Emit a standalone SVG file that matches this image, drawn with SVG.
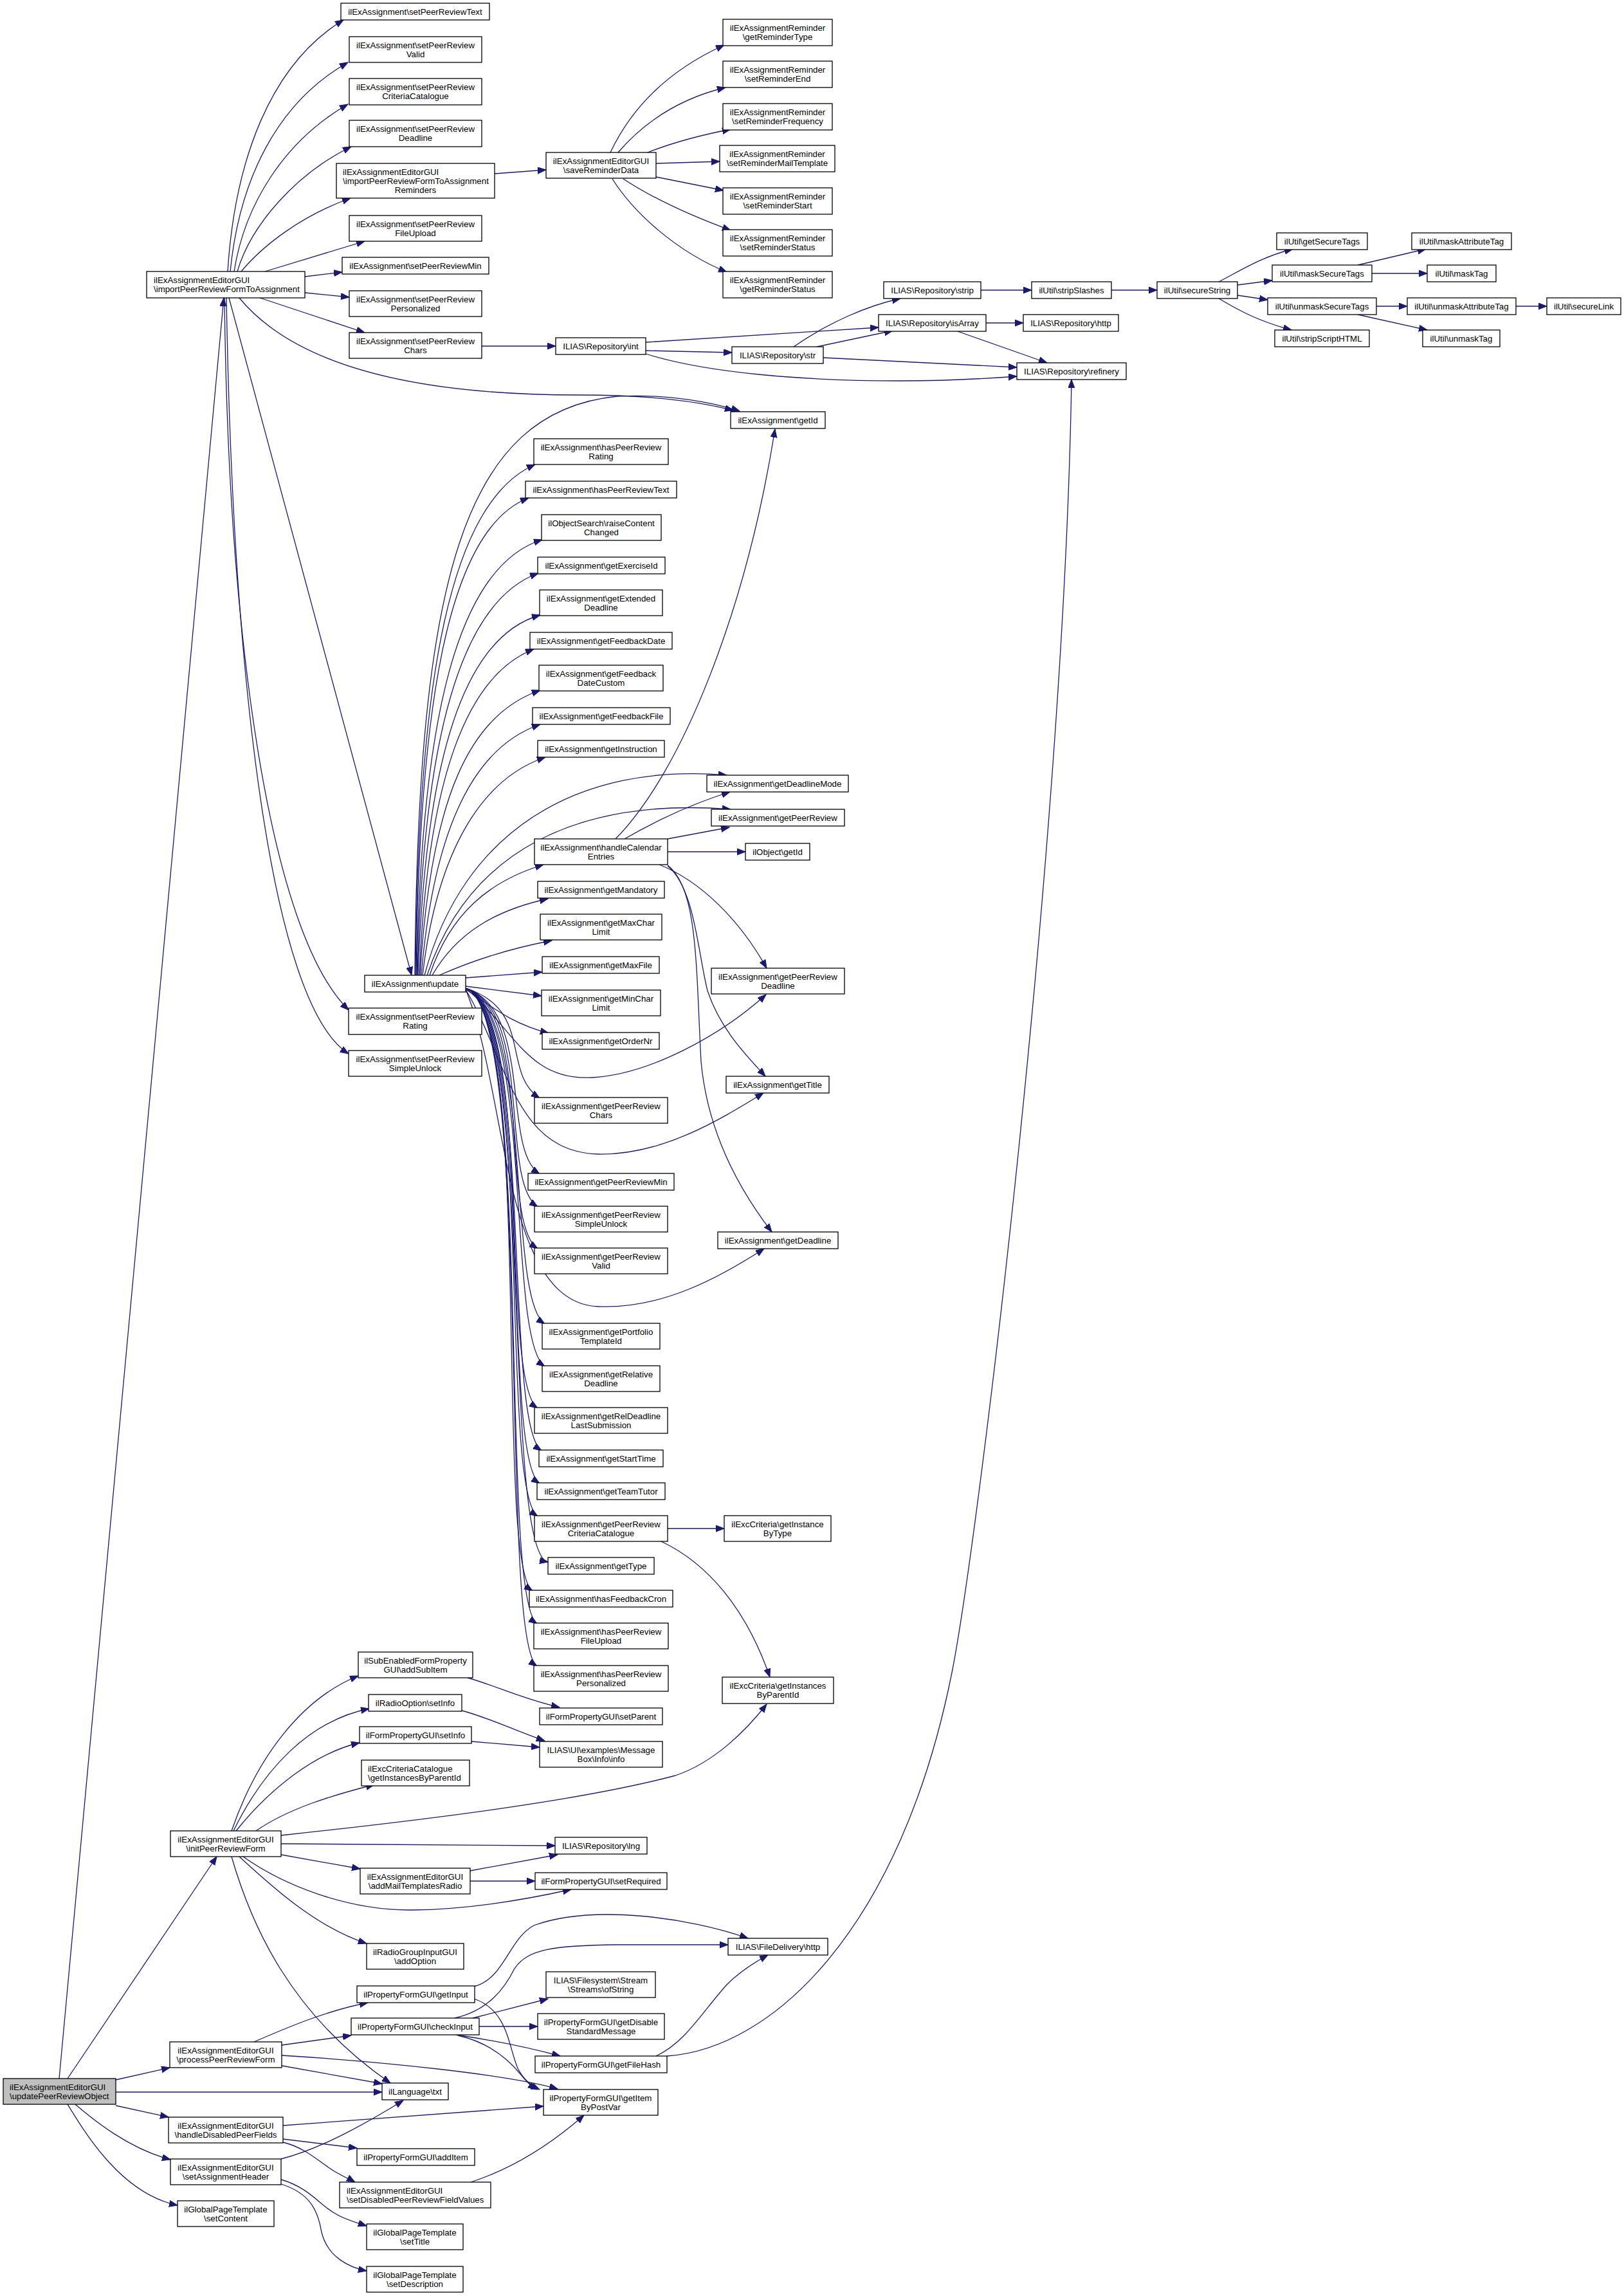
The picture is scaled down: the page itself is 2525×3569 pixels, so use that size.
<svg xmlns="http://www.w3.org/2000/svg" width="2525" height="3569" viewBox="0 0 2525 3569">
<defs>
<marker id="a" markerUnits="userSpaceOnUse" markerWidth="14" markerHeight="11" refX="13" refY="5" orient="auto"><path d="M0,0L13,5L0,10z" fill="#191970" stroke="#191970" stroke-width="1"/></marker>
<style>
rect{fill:#fff;stroke:#000;stroke-width:1.3}
#n0 rect{fill:#bfbfbf}
text{font-family:"Liberation Sans",Arial,Helvetica,sans-serif;font-size:13.3px;fill:#000}
.c{text-anchor:middle}
#edges path{fill:none;stroke:#191970;stroke-width:1.3;marker-end:url(#a)}
</style>
</defs>
<rect x="0" y="0" width="2525" height="3569" style="fill:#fff;stroke:none"/>
<g id="edges">
<path d="M92 3231L348 463"/>
<path d="M105 3231L337 2886"/>
<path d="M180 3233L264 3214"/>
<path d="M180 3252L594 3252"/>
<path d="M180 3273L262 3291"/>
<path d="M117 3271C145 3295 200 3340 265 3357"/>
<path d="M105 3271C135 3320 190 3410 276 3428"/>
<path d="M354 422C365 250 420 100 534 31"/>
<path d="M358 422C372 280 430 160 541 97"/>
<path d="M364 422C380 320 440 220 541 162"/>
<path d="M369 422C390 350 460 270 546 228"/>
<path d="M375 422C410 380 470 335 545 308"/>
<path d="M412 422L567 375"/>
<path d="M474 430L532 423"/>
<path d="M474 455L543 462"/>
<path d="M404 463L567 517"/>
<path d="M372 463C460 570 650 614 900 614C1000 614 1080 622 1140 638"/>
<path d="M356 463L640 1516"/>
<path d="M349 463C355 1000 420 1450 542 1570"/>
<path d="M352 463C362 1050 420 1560 542 1638"/>
<path d="M769 270L849 264"/>
<path d="M949 237C990 150 1060 100 1126 70"/>
<path d="M961 237C1010 180 1070 150 1128 136"/>
<path d="M1007 237C1050 220 1100 208 1136 201"/>
<path d="M1020 254L1119 251"/>
<path d="M1020 275L1125 296"/>
<path d="M969 278C1010 305 1060 330 1136 358"/>
<path d="M952 278C985 330 1050 390 1130 423"/>
<path d="M749 538L864 538"/>
<path d="M1004 532L1366 509"/>
<path d="M1004 545L1138 548"/>
<path d="M1004 550C1100 580 1250 592 1400 592C1480 592 1540 588 1581 585"/>
<path d="M1234 539C1290 500 1350 475 1400 464"/>
<path d="M1270 539L1388 514"/>
<path d="M1280 556L1581 571"/>
<path d="M1525 451L1604 451"/>
<path d="M1728 451L1799 451"/>
<path d="M1533 502L1591 502"/>
<path d="M1486 514L1628 564"/>
<path d="M1895 438C1930 420 1960 400 2010 387"/>
<path d="M1924 443L1978 436"/>
<path d="M1924 459L1971 466"/>
<path d="M1895 464C1930 485 1960 500 2008 513"/>
<path d="M2111 412L2217 387"/>
<path d="M2133 425L2219 425"/>
<path d="M2140 476L2188 476"/>
<path d="M2111 489L2219 513"/>
<path d="M2357 476L2405 476"/>
<path d="M645 1516C650 900 720 640 960 616C1040 612 1110 626 1150 639"/>
<path d="M646 1516C650 1050 700 780 832 722"/>
<path d="M647 1516C652 1080 700 820 822 774"/>
<path d="M648 1516C655 1120 710 880 843 839"/>
<path d="M649 1516C658 1150 715 935 837 891"/>
<path d="M650 1516C662 1180 720 990 840 956"/>
<path d="M652 1516C665 1210 725 1050 830 1009"/>
<path d="M653 1516C670 1240 730 1110 840 1073"/>
<path d="M655 1516C675 1280 740 1160 840 1126"/>
<path d="M657 1516C680 1320 750 1210 848 1177"/>
<path d="M660 1516C720 1290 900 1185 1130 1205"/>
<path d="M664 1516C730 1320 900 1240 1136 1258"/>
<path d="M668 1516C700 1420 760 1370 845 1344"/>
<path d="M672 1516C710 1450 770 1415 852 1397"/>
<path d="M683 1516C730 1495 790 1475 858 1462"/>
<path d="M724 1520L843 1511"/>
<path d="M724 1533L842 1548"/>
<path d="M724 1538C760 1560 790 1590 853 1606"/>
<path d="M724 1536C800 1600 820 1680 920 1675C1010 1670 1120 1610 1191 1546"/>
<path d="M724 1538C790 1650 800 1790 930 1794C1030 1796 1120 1740 1187 1699"/>
<path d="M724 1538C790 1700 780 2025 930 2031C1030 2035 1120 1985 1188 1941"/>
<path d="M724 1536C830 1570 779 1667 839 1707"/>
<path d="M724 1536C830 1570 779 1785 839 1825"/>
<path d="M724 1536C830 1570 776 1836 836 1876"/>
<path d="M724 1536C830 1570 776 1901 836 1941"/>
<path d="M724 1536C830 1570 787 2018 847 2058"/>
<path d="M724 1536C830 1570 787 2084 847 2124"/>
<path d="M724 1536C830 1570 776 2149 836 2189"/>
<path d="M724 1536C830 1570 782 2215 842 2255"/>
<path d="M724 1536C830 1570 779 2266 839 2306"/>
<path d="M724 1536C830 1570 776 2317 836 2357"/>
<path d="M724 1536C830 1570 780 2415 852 2428"/>
<path d="M724 1536C830 1570 768 2433 828 2473"/>
<path d="M724 1536C830 1570 775 2484 835 2524"/>
<path d="M724 1536C830 1570 775 2550 835 2590"/>
<path d="M957 1304C1060 1200 1160 950 1205 667"/>
<path d="M971 1304C1030 1270 1090 1245 1135 1231"/>
<path d="M1038 1304L1134 1286"/>
<path d="M1038 1324L1159 1324"/>
<path d="M1025 1344C1090 1370 1150 1430 1192 1505"/>
<path d="M1038 1346C1080 1380 1085 1480 1100 1540C1120 1600 1160 1640 1190 1673"/>
<path d="M1038 1345C1085 1380 1082 1500 1090 1650C1100 1760 1150 1850 1200 1915"/>
<path d="M1038 2376L1126 2376"/>
<path d="M1028 2396C1100 2430 1160 2500 1197 2607"/>
<path d="M360 2846C400 2730 470 2640 557 2605"/>
<path d="M363 2846C410 2750 480 2675 574 2656"/>
<path d="M367 2846C420 2780 490 2725 559 2709"/>
<path d="M398 2846C450 2810 520 2790 582 2774"/>
<path d="M437 2853C650 2830 900 2800 1050 2760C1110 2740 1160 2690 1192 2649"/>
<path d="M437 2866L863 2869"/>
<path d="M437 2883L560 2905"/>
<path d="M378 2886C440 2930 540 2970 640 2969C740 2968 830 2950 888 2937"/>
<path d="M372 2886C420 2930 490 2995 570 3021"/>
<path d="M360 2886C390 2990 450 3130 607 3238"/>
<path d="M731 2908L867 2883"/>
<path d="M731 2924L832 2924"/>
<path d="M727 2608C770 2620 810 2640 870 2654"/>
<path d="M718 2659C760 2670 800 2690 847 2706"/>
<path d="M733 2707L839 2716"/>
<path d="M395 3174C450 3150 510 3125 572 3113"/>
<path d="M438 3179L546 3164"/>
<path d="M438 3211L594 3239"/>
<path d="M438 3195C600 3205 790 3225 867 3247"/>
<path d="M737 3088C785 3075 790 3015 830 2993C920 2960 1070 2980 1163 3013"/>
<path d="M737 3107C790 3125 790 3180 805 3215C815 3235 828 3243 839 3248"/>
<path d="M707 3137C760 3125 785 3090 800 3060C820 3030 860 3024 960 3023L1132 3023"/>
<path d="M735 3137L852 3107"/>
<path d="M745 3150L836 3150"/>
<path d="M709 3163C770 3172 830 3185 871 3196"/>
<path d="M712 3164C760 3175 790 3200 810 3225C820 3238 828 3244 834 3248"/>
<path d="M1020 3196C1065 3175 1090 3130 1130 3085C1150 3065 1170 3052 1194 3039"/>
<path d="M1037 3196C1200 3185 1400 3000 1480 2600C1520 2400 1655 1300 1666 590"/>
<path d="M440 3304L845 3274"/>
<path d="M440 3325L555 3339"/>
<path d="M440 3330C480 3340 500 3365 525 3378C535 3384 545 3388 552 3392"/>
<path d="M437 3356C500 3340 570 3300 627 3265"/>
<path d="M437 3388C480 3400 500 3430 520 3440C535 3450 555 3455 570 3460"/>
<path d="M437 3395C485 3410 495 3440 500 3470C510 3510 545 3525 570 3530"/>
<path d="M732 3392C800 3370 860 3330 908 3288"/>
</g>
<g id="n0"><rect x="5" y="3231" width="175" height="40"/><text x="15" y="3248.5">ilExAssignmentEditorGUI</text><text x="15" y="3262.5">\updatePeerReviewObject</text></g>
<g id="n1"><rect x="228" y="422" width="246" height="41"/><text x="239" y="440">ilExAssignmentEditorGUI</text><text x="239" y="454">\importPeerReviewFormToAssignment</text></g>
<g id="n2"><rect x="530" y="5" width="231" height="26"/><text class="c" x="645.5" y="22.5">ilExAssignment\setPeerReviewText</text></g>
<g id="n3"><rect x="543" y="57" width="206" height="40"/><text class="c" x="646" y="74.5">ilExAssignment\setPeerReview</text><text class="c" x="646" y="88.5">Valid</text></g>
<g id="n4"><rect x="543" y="122" width="206" height="41"/><text class="c" x="646" y="140">ilExAssignment\setPeerReview</text><text class="c" x="646" y="154">CriteriaCatalogue</text></g>
<g id="n5"><rect x="543" y="187" width="206" height="41"/><text class="c" x="646" y="205">ilExAssignment\setPeerReview</text><text class="c" x="646" y="219">Deadline</text></g>
<g id="n6"><rect x="523" y="254" width="246" height="54"/><text x="533" y="271.5">ilExAssignmentEditorGUI</text><text x="533" y="285.5">\importPeerReviewFormToAssignment</text><text class="c" x="646" y="299.5">Reminders</text></g>
<g id="n7"><rect x="543" y="335" width="206" height="40"/><text class="c" x="646" y="352.5">ilExAssignment\setPeerReview</text><text class="c" x="646" y="366.5">FileUpload</text></g>
<g id="n8"><rect x="532" y="400" width="228" height="26"/><text class="c" x="646" y="417.5">ilExAssignment\setPeerReviewMin</text></g>
<g id="n9"><rect x="543" y="452" width="206" height="40"/><text class="c" x="646" y="469.5">ilExAssignment\setPeerReview</text><text class="c" x="646" y="483.5">Personalized</text></g>
<g id="n10"><rect x="543" y="517" width="206" height="40"/><text class="c" x="646" y="534.5">ilExAssignment\setPeerReview</text><text class="c" x="646" y="548.5">Chars</text></g>
<g id="n11"><rect x="849" y="237" width="171" height="40"/><text class="c" x="934.5" y="254.5">ilExAssignmentEditorGUI</text><text class="c" x="934.5" y="268.5">\saveReminderData</text></g>
<g id="n12"><rect x="1124" y="30" width="170" height="41"/><text class="c" x="1209" y="48">ilExAssignmentReminder</text><text class="c" x="1209" y="62">\getReminderType</text></g>
<g id="n13"><rect x="1124" y="95" width="170" height="41"/><text class="c" x="1209" y="113">ilExAssignmentReminder</text><text class="c" x="1209" y="127">\setReminderEnd</text></g>
<g id="n14"><rect x="1124" y="161" width="170" height="41"/><text class="c" x="1209" y="179">ilExAssignmentReminder</text><text class="c" x="1209" y="193">\setReminderFrequency</text></g>
<g id="n15"><rect x="1119" y="226" width="179" height="41"/><text class="c" x="1208.5" y="244">ilExAssignmentReminder</text><text class="c" x="1208.5" y="258">\setReminderMailTemplate</text></g>
<g id="n16"><rect x="1124" y="292" width="170" height="41"/><text class="c" x="1209" y="310">ilExAssignmentReminder</text><text class="c" x="1209" y="324">\setReminderStart</text></g>
<g id="n17"><rect x="1124" y="357" width="170" height="41"/><text class="c" x="1209" y="375">ilExAssignmentReminder</text><text class="c" x="1209" y="389">\setReminderStatus</text></g>
<g id="n18"><rect x="1124" y="422" width="170" height="41"/><text class="c" x="1209" y="440">ilExAssignmentReminder</text><text class="c" x="1209" y="454">\getReminderStatus</text></g>
<g id="n19"><rect x="864" y="525" width="140" height="26"/><text class="c" x="934" y="542.5">ILIAS\Repository\int</text></g>
<g id="n20"><rect x="1374" y="438" width="151" height="26"/><text class="c" x="1449.5" y="455.5">ILIAS\Repository\strip</text></g>
<g id="n21"><rect x="1604" y="438" width="124" height="26"/><text class="c" x="1666" y="455.5">ilUtil\stripSlashes</text></g>
<g id="n22"><rect x="1799" y="438" width="125" height="26"/><text class="c" x="1861.5" y="455.5">ilUtil\secureString</text></g>
<g id="n23"><rect x="1366" y="489" width="167" height="26"/><text class="c" x="1449.5" y="506.5">ILIAS\Repository\isArray</text></g>
<g id="n24"><rect x="1591" y="489" width="148" height="26"/><text class="c" x="1665" y="506.5">ILIAS\Repository\http</text></g>
<g id="n25"><rect x="1138" y="539" width="142" height="26"/><text class="c" x="1209" y="556.5">ILIAS\Repository\str</text></g>
<g id="n26"><rect x="1581" y="564" width="170" height="26"/><text class="c" x="1666" y="581.5">ILIAS\Repository\refinery</text></g>
<g id="n27"><rect x="1985" y="362" width="141" height="26"/><text class="c" x="2055.5" y="379.5">ilUtil\getSecureTags</text></g>
<g id="n28"><rect x="1978" y="412" width="155" height="26"/><text class="c" x="2055.5" y="429.5">ilUtil\maskSecureTags</text></g>
<g id="n29"><rect x="1971" y="463" width="169" height="26"/><text class="c" x="2055.5" y="480.5">ilUtil\unmaskSecureTags</text></g>
<g id="n30"><rect x="1982" y="513" width="147" height="26"/><text class="c" x="2055.5" y="530.5">ilUtil\stripScriptHTML</text></g>
<g id="n31"><rect x="2195" y="362" width="155" height="26"/><text class="c" x="2272.5" y="379.5">ilUtil\maskAttributeTag</text></g>
<g id="n32"><rect x="2219" y="412" width="107" height="26"/><text class="c" x="2272.5" y="429.5">ilUtil\maskTag</text></g>
<g id="n33"><rect x="2188" y="463" width="169" height="26"/><text class="c" x="2272.5" y="480.5">ilUtil\unmaskAttributeTag</text></g>
<g id="n34"><rect x="2212" y="513" width="120" height="26"/><text class="c" x="2272" y="530.5">ilUtil\unmaskTag</text></g>
<g id="n35"><rect x="2405" y="463" width="115" height="26"/><text class="c" x="2462.5" y="480.5">ilUtil\secureLink</text></g>
<g id="n36"><rect x="1136" y="640" width="147" height="26"/><text class="c" x="1209.5" y="657.5">ilExAssignment\getId</text></g>
<g id="n37"><rect x="567" y="1516" width="157" height="26"/><text class="c" x="645.5" y="1533.5">ilExAssignment\update</text></g>
<g id="n38"><rect x="542" y="1567" width="207" height="41"/><text class="c" x="645.5" y="1585">ilExAssignment\setPeerReview</text><text class="c" x="645.5" y="1599">Rating</text></g>
<g id="n39"><rect x="542" y="1633" width="207" height="40"/><text class="c" x="645.5" y="1650.5">ilExAssignment\setPeerReview</text><text class="c" x="645.5" y="1664.5">SimpleUnlock</text></g>
<g id="n40"><rect x="830" y="682" width="209" height="40"/><text class="c" x="934.5" y="699.5">ilExAssignment\hasPeerReview</text><text class="c" x="934.5" y="713.5">Rating</text></g>
<g id="n41"><rect x="817" y="748" width="235" height="26"/><text class="c" x="934.5" y="765.5">ilExAssignment\hasPeerReviewText</text></g>
<g id="n42"><rect x="842" y="800" width="186" height="40"/><text class="c" x="935" y="817.5">ilObjectSearch\raiseContent</text><text class="c" x="935" y="831.5">Changed</text></g>
<g id="n43"><rect x="836" y="866" width="198" height="26"/><text class="c" x="935" y="883.5">ilExAssignment\getExerciseId</text></g>
<g id="n44"><rect x="839" y="917" width="191" height="40"/><text class="c" x="934.5" y="934.5">ilExAssignment\getExtended</text><text class="c" x="934.5" y="948.5">Deadline</text></g>
<g id="n45"><rect x="824" y="983" width="221" height="26"/><text class="c" x="934.5" y="1000.5">ilExAssignment\getFeedbackDate</text></g>
<g id="n46"><rect x="838" y="1034" width="193" height="40"/><text class="c" x="934.5" y="1051.5">ilExAssignment\getFeedback</text><text class="c" x="934.5" y="1065.5">DateCustom</text></g>
<g id="n47"><rect x="828" y="1100" width="214" height="26"/><text class="c" x="935" y="1117.5">ilExAssignment\getFeedbackFile</text></g>
<g id="n48"><rect x="836" y="1151" width="197" height="26"/><text class="c" x="934.5" y="1168.5">ilExAssignment\getInstruction</text></g>
<g id="n49"><rect x="1099" y="1205" width="220" height="26"/><text class="c" x="1209" y="1222.5">ilExAssignment\getDeadlineMode</text></g>
<g id="n50"><rect x="1106" y="1258" width="207" height="26"/><text class="c" x="1209.5" y="1275.5">ilExAssignment\getPeerReview</text></g>
<g id="n51"><rect x="1159" y="1311" width="100" height="26"/><text class="c" x="1209" y="1328.5">ilObject\getId</text></g>
<g id="n52"><rect x="831" y="1304" width="207" height="40"/><text class="c" x="934.5" y="1321.5">ilExAssignment\handleCalendar</text><text class="c" x="934.5" y="1335.5">Entries</text></g>
<g id="n53"><rect x="836" y="1370" width="197" height="26"/><text class="c" x="934.5" y="1387.5">ilExAssignment\getMandatory</text></g>
<g id="n54"><rect x="840" y="1421" width="189" height="40"/><text class="c" x="934.5" y="1438.5">ilExAssignment\getMaxChar</text><text class="c" x="934.5" y="1452.5">Limit</text></g>
<g id="n55"><rect x="843" y="1487" width="182" height="26"/><text class="c" x="934" y="1504.5">ilExAssignment\getMaxFile</text></g>
<g id="n56"><rect x="842" y="1539" width="185" height="40"/><text class="c" x="934.5" y="1556.5">ilExAssignment\getMinChar</text><text class="c" x="934.5" y="1570.5">Limit</text></g>
<g id="n57"><rect x="843" y="1605" width="182" height="26"/><text class="c" x="934" y="1622.5">ilExAssignment\getOrderNr</text></g>
<g id="n58"><rect x="1106" y="1505" width="207" height="40"/><text class="c" x="1209.5" y="1522.5">ilExAssignment\getPeerReview</text><text class="c" x="1209.5" y="1536.5">Deadline</text></g>
<g id="n59"><rect x="1129" y="1673" width="160" height="26"/><text class="c" x="1209" y="1690.5">ilExAssignment\getTitle</text></g>
<g id="n60"><rect x="831" y="1706" width="207" height="40"/><text class="c" x="934.5" y="1723.5">ilExAssignment\getPeerReview</text><text class="c" x="934.5" y="1737.5">Chars</text></g>
<g id="n61"><rect x="821" y="1824" width="227" height="26"/><text class="c" x="934.5" y="1841.5">ilExAssignment\getPeerReviewMin</text></g>
<g id="n62"><rect x="831" y="1875" width="207" height="40"/><text class="c" x="934.5" y="1892.5">ilExAssignment\getPeerReview</text><text class="c" x="934.5" y="1906.5">SimpleUnlock</text></g>
<g id="n63"><rect x="1116" y="1915" width="187" height="26"/><text class="c" x="1209.5" y="1932.5">ilExAssignment\getDeadline</text></g>
<g id="n64"><rect x="831" y="1940" width="207" height="40"/><text class="c" x="934.5" y="1957.5">ilExAssignment\getPeerReview</text><text class="c" x="934.5" y="1971.5">Valid</text></g>
<g id="n65"><rect x="843" y="2057" width="183" height="40"/><text class="c" x="934.5" y="2074.5">ilExAssignment\getPortfolio</text><text class="c" x="934.5" y="2088.5">TemplateId</text></g>
<g id="n66"><rect x="843" y="2123" width="183" height="40"/><text class="c" x="934.5" y="2140.5">ilExAssignment\getRelative</text><text class="c" x="934.5" y="2154.5">Deadline</text></g>
<g id="n67"><rect x="831" y="2188" width="207" height="40"/><text class="c" x="934.5" y="2205.5">ilExAssignment\getRelDeadline</text><text class="c" x="934.5" y="2219.5">LastSubmission</text></g>
<g id="n68"><rect x="838" y="2254" width="193" height="26"/><text class="c" x="934.5" y="2271.5">ilExAssignment\getStartTime</text></g>
<g id="n69"><rect x="835" y="2305" width="199" height="26"/><text class="c" x="934.5" y="2322.5">ilExAssignment\getTeamTutor</text></g>
<g id="n70"><rect x="831" y="2356" width="207" height="40"/><text class="c" x="934.5" y="2373.5">ilExAssignment\getPeerReview</text><text class="c" x="934.5" y="2387.5">CriteriaCatalogue</text></g>
<g id="n71"><rect x="1126" y="2356" width="166" height="40"/><text class="c" x="1209" y="2373.5">ilExcCriteria\getInstance</text><text class="c" x="1209" y="2387.5">ByType</text></g>
<g id="n72"><rect x="852" y="2421" width="165" height="26"/><text class="c" x="934.5" y="2438.5">ilExAssignment\getType</text></g>
<g id="n73"><rect x="823" y="2472" width="223" height="26"/><text class="c" x="934.5" y="2489.5">ilExAssignment\hasFeedbackCron</text></g>
<g id="n74"><rect x="830" y="2523" width="209" height="40"/><text class="c" x="934.5" y="2540.5">ilExAssignment\hasPeerReview</text><text class="c" x="934.5" y="2554.5">FileUpload</text></g>
<g id="n75"><rect x="830" y="2589" width="209" height="40"/><text class="c" x="934.5" y="2606.5">ilExAssignment\hasPeerReview</text><text class="c" x="934.5" y="2620.5">Personalized</text></g>
<g id="n76"><rect x="1123" y="2607" width="173" height="41"/><text class="c" x="1209.5" y="2625">ilExcCriteria\getInstances</text><text class="c" x="1209.5" y="2639">ByParentId</text></g>
<g id="n77"><rect x="265" y="2846" width="172" height="40"/><text class="c" x="351" y="2863.5">ilExAssignmentEditorGUI</text><text class="c" x="351" y="2877.5">\initPeerReviewForm</text></g>
<g id="n78"><rect x="557" y="2568" width="178" height="40"/><text class="c" x="646" y="2585.5">ilSubEnabledFormProperty</text><text class="c" x="646" y="2599.5">GUI\addSubItem</text></g>
<g id="n79"><rect x="573" y="2634" width="145" height="26"/><text class="c" x="645.5" y="2651.5">ilRadioOption\setInfo</text></g>
<g id="n80"><rect x="559" y="2684" width="174" height="26"/><text class="c" x="646" y="2701.5">ilFormPropertyGUI\setInfo</text></g>
<g id="n81"><rect x="562" y="2736" width="168" height="40"/><text x="572" y="2753.5">ilExcCriteriaCatalogue</text><text x="572" y="2767.5">\getInstancesByParentId</text></g>
<g id="n82"><rect x="839" y="2655" width="191" height="26"/><text class="c" x="934.5" y="2672.5">ilFormPropertyGUI\setParent</text></g>
<g id="n83"><rect x="839" y="2707" width="191" height="40"/><text class="c" x="934.5" y="2724.5">ILIAS\UI\examples\Message</text><text class="c" x="934.5" y="2738.5">Box\Info\info</text></g>
<g id="n84"><rect x="863" y="2856" width="143" height="26"/><text class="c" x="934.5" y="2873.5">ILIAS\Repository\lng</text></g>
<g id="n85"><rect x="560" y="2904" width="171" height="40"/><text class="c" x="645.5" y="2921.5">ilExAssignmentEditorGUI</text><text class="c" x="645.5" y="2935.5">\addMailTemplatesRadio</text></g>
<g id="n86"><rect x="832" y="2911" width="205" height="26"/><text class="c" x="934.5" y="2928.5">ilFormPropertyGUI\setRequired</text></g>
<g id="n87"><rect x="570" y="3021" width="151" height="40"/><text class="c" x="645.5" y="3038.5">ilRadioGroupInputGUI</text><text class="c" x="645.5" y="3052.5">\addOption</text></g>
<g id="n88"><rect x="555" y="3087" width="183" height="26"/><text class="c" x="646.5" y="3104.5">ilPropertyFormGUI\getInput</text></g>
<g id="n89"><rect x="546" y="3137" width="199" height="26"/><text class="c" x="645.5" y="3154.5">ilPropertyFormGUI\checkInput</text></g>
<g id="n90"><rect x="1132" y="3013" width="155" height="26"/><text class="c" x="1209.5" y="3030.5">ILIAS\FileDelivery\http</text></g>
<g id="n91"><rect x="849" y="3065" width="170" height="40"/><text class="c" x="934" y="3082.5">ILIAS\Filesystem\Stream</text><text class="c" x="934" y="3096.5">\Streams\ofString</text></g>
<g id="n92"><rect x="836" y="3130" width="197" height="40"/><text class="c" x="934.5" y="3147.5">ilPropertyFormGUI\getDisable</text><text class="c" x="934.5" y="3161.5">StandardMessage</text></g>
<g id="n93"><rect x="832" y="3196" width="205" height="26"/><text class="c" x="934.5" y="3213.5">ilPropertyFormGUI\getFileHash</text></g>
<g id="n94"><rect x="264" y="3174" width="174" height="40"/><text class="c" x="351" y="3191.5">ilExAssignmentEditorGUI</text><text class="c" x="351" y="3205.5">\processPeerReviewForm</text></g>
<g id="n95"><rect x="594" y="3238" width="103" height="26"/><text class="c" x="645.5" y="3255.5">ilLanguage\txt</text></g>
<g id="n96"><rect x="845" y="3248" width="178" height="40"/><text class="c" x="934" y="3265.5">ilPropertyFormGUI\getItem</text><text class="c" x="934" y="3279.5">ByPostVar</text></g>
<g id="n97"><rect x="262" y="3291" width="178" height="40"/><text class="c" x="351" y="3308.5">ilExAssignmentEditorGUI</text><text class="c" x="351" y="3322.5">\handleDisabledPeerFields</text></g>
<g id="n98"><rect x="555" y="3340" width="183" height="26"/><text class="c" x="646.5" y="3357.5">ilPropertyFormGUI\addItem</text></g>
<g id="n99"><rect x="265" y="3356" width="172" height="40"/><text class="c" x="351" y="3373.5">ilExAssignmentEditorGUI</text><text class="c" x="351" y="3387.5">\setAssignmentHeader</text></g>
<g id="n100"><rect x="528" y="3392" width="235" height="40"/><text x="539" y="3409.5">ilExAssignmentEditorGUI</text><text x="539" y="3423.5">\setDisabledPeerReviewFieldValues</text></g>
<g id="n101"><rect x="276" y="3421" width="150" height="40"/><text class="c" x="351" y="3438.5">ilGlobalPageTemplate</text><text class="c" x="351" y="3452.5">\setContent</text></g>
<g id="n102"><rect x="570" y="3457" width="150" height="40"/><text class="c" x="645" y="3474.5">ilGlobalPageTemplate</text><text class="c" x="645" y="3488.5">\setTitle</text></g>
<g id="n103"><rect x="570" y="3523" width="150" height="40"/><text class="c" x="645" y="3540.5">ilGlobalPageTemplate</text><text class="c" x="645" y="3554.5">\setDescription</text></g>
</svg>
